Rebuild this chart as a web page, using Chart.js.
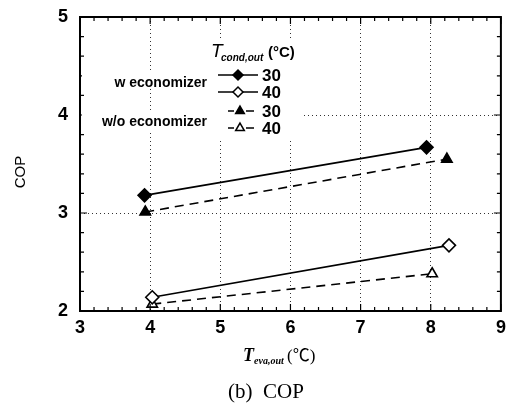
<!DOCTYPE html>
<html>
<head>
<meta charset="utf-8">
<script src="https://cdn.jsdelivr.net/npm/chart.js@4/dist/chart.umd.min.js"></script>
<style>
  html, body { margin: 0; padding: 0; background: #fff; }
  #wrap { width: 509px; height: 408px; position: relative; }
</style>
</head>
<body>
<div id="wrap"><canvas id="copChart"></canvas></div>
<script>
// evaporator outlet temperature (x) and COP (y) for each case
var wEco30X = [3.92, 7.94];
var wEco30Y = [3.18, 3.67];
var wEco40X = [4.03, 8.26];
var wEco40Y = [2.14, 2.67];
var woEco30X = [3.93, 8.23];
var woEco30Y = [3.01, 3.55];
var woEco40X = [4.03, 8.02];
var woEco40Y = [2.07, 2.38];

var xTicks = [3, 4, 5, 6, 7, 8, 9];
var yTicks = [2, 3, 4, 5];
var condLabels = ["30", "40", "30", "40"];

function pts(xs, ys) {
  return xs.map(function (x, i) { return { x: x, y: ys[i] }; });
}

var series = [
  { data: pts(wEco30X, wEco30Y), pointStyle: "rectRot", filled: true, dash: [] },
  { data: pts(wEco40X, wEco40Y), pointStyle: "rectRot", filled: false, dash: [] },
  { data: pts(woEco30X, woEco30Y), pointStyle: "triangle", filled: true, dash: [9, 6] },
  { data: pts(woEco40X, woEco40Y), pointStyle: "triangle", filled: false, dash: [9, 6] }
];

var datasets = series.map(function (s, i) {
  return {
    label: condLabels[i],
    data: s.data,
    showLine: true,
    borderColor: "#000",
    borderWidth: 1.6,
    borderDash: s.dash,
    pointStyle: s.pointStyle,
    pointRadius: s.pointStyle === "triangle" ? 6 : 6.5,
    pointBorderWidth: 1.6,
    pointBackgroundColor: s.filled ? "#000" : "#fff",
    pointBorderColor: "#000"
  };
});

// frame, inward ticks, legend block and captions
var decorations = {
  id: "decorations",
  afterDraw: function (chart) {
    var ctx = chart.ctx;
    var a = chart.chartArea;
    var xs = chart.scales.x, ys = chart.scales.y;
    ctx.save();

    // inward major/minor ticks on all four sides
    ctx.strokeStyle = "#000";
    ctx.lineWidth = 1.2;
    ctx.setLineDash([]);
    for (var v = 3; v <= 9.001; v += 0.2) {
      var px = xs.getPixelForValue(v);
      var major = Math.abs(v - Math.round(v)) < 0.01;
      var len = major ? 7 : 4;
      ctx.beginPath();
      ctx.moveTo(px, a.bottom); ctx.lineTo(px, a.bottom - len);
      ctx.moveTo(px, a.top); ctx.lineTo(px, a.top + len);
      ctx.stroke();
    }
    for (var w = 2; w <= 5.001; w += 0.2) {
      var py = ys.getPixelForValue(w);
      var majorY = Math.abs(w - Math.round(w)) < 0.01;
      var lenY = majorY ? 7 : 4;
      ctx.beginPath();
      ctx.moveTo(a.left, py); ctx.lineTo(a.left + lenY, py);
      ctx.moveTo(a.right, py); ctx.lineTo(a.right - lenY, py);
      ctx.stroke();
    }

    // plot frame
    ctx.lineWidth = 2;
    ctx.strokeRect(a.left, a.top, a.right - a.left, a.bottom - a.top);

    // group labels
    ctx.fillStyle = "#fff";
    ctx.fillRect(a.left + 2, 72, 130, 16);
    ctx.fillRect(a.left + 2, 112, 130, 18);
    ctx.fillStyle = "#000";
    ctx.font = "bold 14px 'Liberation Sans', Arial, sans-serif";
    ctx.textAlign = "right";
    ctx.textBaseline = "middle";
    ctx.fillText("w economizer", 207, 83);
    ctx.fillText("w/o economizer", 207, 122);

    // legend title
    ctx.fillStyle = "#fff";
    ctx.fillRect(209, 38, 92, 100);
    ctx.fillStyle = "#000";
    ctx.textAlign = "left";
    ctx.textBaseline = "alphabetic";
    ctx.font = "italic 19px 'Liberation Sans', Arial, sans-serif";
    ctx.fillText("T", 211, 57);
    ctx.font = "bold italic 10px 'Liberation Sans', Arial, sans-serif";
    ctx.fillText("cond,out", 221, 61);
    ctx.font = "bold 15px 'Liberation Sans', Arial, sans-serif";
    ctx.fillText("(\u00B0C)", 268, 57);

    // legend rows
    var rows = [75, 92, 111, 128];
    datasets.forEach(function (d, i) {
      var y = rows[i];
      ctx.strokeStyle = "#000";
      ctx.lineWidth = 1.4;
      if (d.borderDash.length) {
        ctx.beginPath();
        ctx.moveTo(228, y); ctx.lineTo(234, y);
        ctx.moveTo(246, y); ctx.lineTo(254, y);
        ctx.stroke();
      } else {
        ctx.beginPath();
        ctx.moveTo(218, y); ctx.lineTo(258, y);
        ctx.stroke();
      }
      ctx.fillStyle = d.pointBackgroundColor;
      ctx.lineWidth = 1.5;
      Chart.helpers.drawPoint(ctx, {
        pointStyle: d.pointStyle,
        radius: 5,
        rotation: 0,
        borderWidth: 1.5
      }, d.borderDash.length ? 240 : 238, y);
      ctx.fillStyle = "#000";
      ctx.font = "bold 17px 'Liberation Sans', Arial, sans-serif";
      ctx.textBaseline = "middle";
      ctx.fillText(condLabels[i], 262, y + 1);
    });

    // axis titles
    ctx.textBaseline = "alphabetic";
    ctx.save();
    ctx.translate(25, 172);
    ctx.rotate(-Math.PI / 2);
    ctx.textAlign = "center";
    ctx.font = "15px 'Liberation Sans', Arial, sans-serif";
    ctx.fillText("COP", 0, 0);
    ctx.restore();

    ctx.textAlign = "left";
    ctx.font = "bold italic 18px 'Liberation Serif', 'Times New Roman', serif";
    ctx.fillText("T", 243, 361);
    ctx.font = "bold italic 10px 'Liberation Serif', 'Times New Roman', serif";
    ctx.fillText("eva,out", 254, 364);
    ctx.font = "17px 'Liberation Serif', 'Noto Sans CJK KR', serif";
    ctx.fillText("(\u2103)", 287, 361);

    // caption
    ctx.textAlign = "center";
    ctx.font = "21px 'Liberation Serif', 'Times New Roman', serif";
    ctx.fillText("(b)  COP", 266, 398);

    ctx.restore();
  }
};

var ctx = document.getElementById("copChart").getContext("2d");
var copChart = new Chart(ctx, {
  type: "scatter",
  data: { datasets: datasets },
  options: {
    responsive: true,
    maintainAspectRatio: false,
    animation: false,
    layout: { padding: { top: 17, right: 4, left: 0, bottom: 0 } },
    plugins: { legend: { display: false }, tooltip: { enabled: false } },
    scales: {
      x: {
        type: "linear",
        min: 3, max: 9,
        afterBuildTicks: function (s) { s.ticks = xTicks.map(function (v) { return { value: v }; }); },
        afterFit: function (s) { s.height = 97; s.paddingLeft = 0; s.paddingRight = 0; },
        grid: { color: "#333", lineWidth: 1, drawTicks: false },
        border: { display: false, dash: [1, 3] },
        ticks: {
          padding: 6,
          color: "#000",
          font: { family: "'Liberation Sans', Arial, sans-serif", size: 18, weight: "bold" }
        }
      },
      y: {
        type: "linear",
        min: 2, max: 5,
        afterBuildTicks: function (s) { s.ticks = yTicks.map(function (v) { return { value: v }; }); },
        afterFit: function (s) { s.width = 80; s.paddingTop = 0; s.paddingBottom = 0; },
        grid: { color: "#333", lineWidth: 1, drawTicks: false },
        border: { display: false, dash: [1, 3] },
        ticks: {
          padding: 12,
          color: "#000",
          font: { family: "'Liberation Sans', Arial, sans-serif", size: 18, weight: "bold" }
        }
      }
    }
  },
  plugins: [decorations]
});
</script>
</body>
</html>
